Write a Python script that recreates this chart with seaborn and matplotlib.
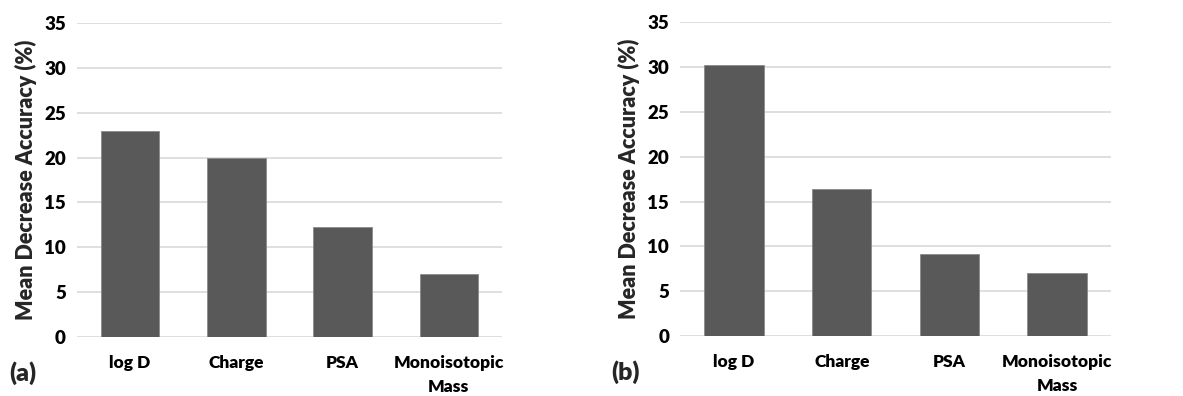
import matplotlib
matplotlib.use("Agg")
import matplotlib.pyplot as plt
import seaborn as sns
import pandas as pd

categories = ["log D", "Charge", "PSA", "Monoisotopic\nMass"]
values_a = [23.0, 20.0, 12.3, 7.0]
values_b = [30.2, 16.4, 9.2, 7.0]
yticks = [0, 5, 10, 15, 20, 25, 30, 35]
panel_labels = ["(a)", "(b)"]

sns.set_theme(style="white")
plt.rcParams['font.family'] = ['Lato', 'DejaVu Sans']

fig = plt.figure(figsize=(11.83, 3.96), dpi=100)
ax_a = fig.add_axes([0.065, 0.149, 0.3593, 0.793])
ax_b = fig.add_axes([0.575, 0.151, 0.364, 0.793])

W = "heavy"
for ax, vals, lab in [(ax_a, values_a, panel_labels[0]), (ax_b, values_b, panel_labels[1])]:
    df = pd.DataFrame({"cat": categories, "val": vals})
    sns.barplot(data=df, x="cat", y="val", ax=ax, color="#595959", width=0.55,
                saturation=1, edgecolor="#8a8a8a", linewidth=0.6, zorder=3)
    ax.set_ylim(0, 35)
    ax.set_yticks(yticks)
    ax.set_xlim(-0.5, 3.5)
    ax.yaxis.grid(True, color="#d9d9d9", linewidth=1.2, zorder=0)
    ax.set_axisbelow(True)
    for s in ax.spines.values():
        s.set_visible(False)
    ax.tick_params(axis="both", length=0, colors="black")
    ax.tick_params(axis="x", pad=13, labelsize=12.5)
    ax.tick_params(axis="y", pad=8, labelsize=13.5)
    for t in ax.get_xticklabels() + ax.get_yticklabels():
        t.set_fontweight(W)
    for t in ax.get_xticklabels():
        t.set_linespacing(1.6)
    ax.set_xlabel("")
    ax.set_ylabel("Mean Decrease Accuracy (%)", fontsize=15.5, fontweight=W, labelpad=5)
    ax.text(-0.16, -0.115, lab, transform=ax.transAxes, fontsize=18, fontweight=W,
            ha="left", va="center")

fig.savefig("out.png", dpi=100)
